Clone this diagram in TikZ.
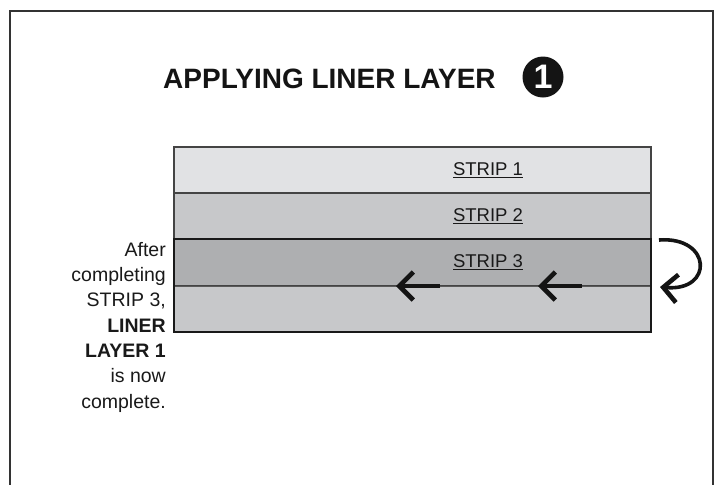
\documentclass[tikz,border=0pt]{standalone}
\usepackage{fontspec}
\setmainfont{Liberation Sans}
\usetikzlibrary{arrows.meta}
\definecolor{frame}{HTML}{333333}
\definecolor{sone}{HTML}{E1E2E4}
\definecolor{stwo}{HTML}{C7C8CA}
\definecolor{sthree}{HTML}{AEAFB1}
\definecolor{edge}{HTML}{444444}
\tikzset{
  stripbox/.style={draw=edge, line width=1.4pt},
  striplabel/.style={font=\fontsize{18.5}{20}\selectfont, text=black!90, inner sep=0pt},
  movearrow/.style={line width=4.6pt, color=black!92, -{Straight Barb[length=14pt,width=28pt,line width=4.6pt,line cap=butt]}},
}
\begin{document}
\begin{tikzpicture}[x=1pt,y=-1pt]
\useasboundingbox (0,0) rectangle (721,485);
% outer frame (open at the bottom)
\draw[frame, line width=2pt] (10,485) -- (10,11) -- (713,11) -- (713,485);
% title
\node[anchor=base west, inner sep=0pt, font=\bfseries\fontsize{28}{30}\selectfont, text=black!92] (title) at (163,88) {APPLYING LINER LAYER};
\node[circle, fill=black!92, minimum size=41pt, inner sep=0pt, text=white, font=\bfseries\fontsize{34}{34}\selectfont] (num) at (543,77) {1};
% strips
\draw[stripbox, fill=sone] (174,147) rectangle (651,193);
\draw[stripbox, fill=stwo] (174,193) rectangle (651,239);
\draw[stripbox, fill=sthree] (174,239) rectangle (651,286);
\draw[stripbox, fill=stwo] (174,286) rectangle (651,332);
\draw[draw=black!90, line width=2.6pt] (174,239) rectangle (651,332);
\draw[draw=black!65, line width=1pt] (175,286) -- (650,286);
\node[striplabel] (s1) at (488,170) {\underline{STRIP 1}};
\node[striplabel] (s2) at (488,216) {\underline{STRIP 2}};
\node[striplabel] (s3) at (488,262) {\underline{STRIP 3}};
% direction arrows
\coordinate (a1s) at (440,286);
\coordinate (a1e) at (396,286);
\coordinate (a2s) at (582,286);
\coordinate (a2e) at (538,286);
\draw[movearrow] (a1s) -- (a1e);
\draw[movearrow] (a2s) -- (a2e);
% turn arrow
\coordinate (ts) at (659,240);
\coordinate (te) at (660,287);
\draw[movearrow, line width=3.6pt] (ts) .. controls (712,236) and (714,292) .. (te);
% left note
\node[anchor=north east, inner sep=0pt, align=right, text=black!90, font=\fontsize{19.5}{25.3}\selectfont] (note) at (166,242)
  {After\\completing\\STRIP 3,\\\textbf{LINER}\\\textbf{LAYER 1}\\is now\\complete.};
\end{tikzpicture}
\end{document}
